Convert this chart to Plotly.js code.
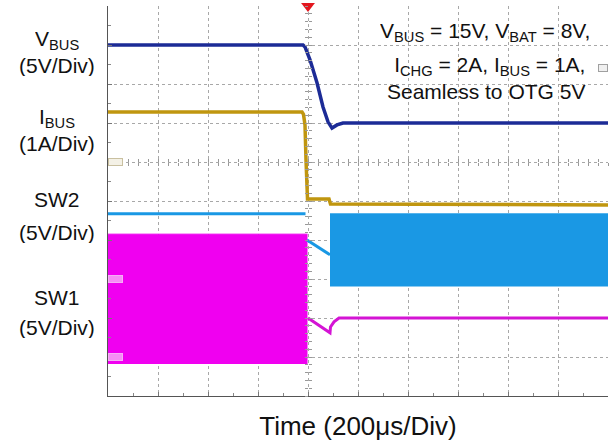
<!DOCTYPE html>
<html>
<head>
<meta charset="utf-8">
<script src="https://cdn.plot.ly/plotly-3.0.1.min.js"></script>
<style>html,body{margin:0;padding:0;background:#fff;}#chart{width:609px;height:445px;}</style>
</head>
<body>
<div id="chart"></div>
<script>
// All values in screen divisions (time: 200us/div, 10 div; vertical: 10 div)
const vbusTime = [0, 3.90, 3.94, 4.04, 4.18, 4.30, 4.40, 4.48, 4.58, 4.70, 10];
const vbusDiv  = [9.0, 9.0, 8.95, 8.62, 8.03, 7.41, 7.03, 6.87, 6.95, 7.0, 7.0];

const ibusTime = [0, 3.88, 3.91, 3.94, 3.96, 3.99, 4.42, 4.45, 10];
const ibusDiv  = [7.28, 7.28, 7.22, 6.95, 6.05, 5.05, 5.05, 4.92, 4.90];

const sw2Time = [0, 3.95, 3.97, 3.98, 4.44];
const sw2Div  = [4.67, 4.67, null, 4.0, 3.62];
const sw2BandTime = [4.44, 10];
const sw2BandHigh = [4.67, 4.67];
const sw2BandLow  = [2.81, 2.81];

const sw1BandTime = [0, 3.99];
const sw1BandHigh = [4.15, 4.15];
const sw1BandLow  = [0.82, 0.82];
const sw1Time = [4.0, 4.44, 4.45, 4.52, 4.62, 10];
const sw1Div  = [2.0, 1.62, 1.77, 1.90, 2.0, 2.0];

const triggerTime = [4.0];
const triggerLevel = [10];

const C = {vbus:'#1c2b96', ibus:'#c0960f', sw2:'#1a98e4', sw1:'#f000f0', sw1line:'#d414d4'};
const FONT = 'Liberation Sans, Arial, Helvetica, sans-serif';

const traces = [
  {x: sw1BandTime, y: sw1BandLow, mode:'lines', line:{color:C.sw1, width:0}, hoverinfo:'skip', showlegend:false},
  {x: sw1BandTime, y: sw1BandHigh, mode:'lines', fill:'tonexty', fillcolor:C.sw1, line:{color:C.sw1, width:1}, hoverinfo:'skip', showlegend:false},
  {x: sw2BandTime, y: sw2BandLow, mode:'lines', line:{color:C.sw2, width:0}, hoverinfo:'skip', showlegend:false},
  {x: sw2BandTime, y: sw2BandHigh, mode:'lines', fill:'tonexty', fillcolor:C.sw2, line:{color:C.sw2, width:1}, hoverinfo:'skip', showlegend:false},
  {x: sw1Time, y: sw1Div, mode:'lines', line:{color:C.sw1line, width:3}, showlegend:false},
  {x: sw2Time, y: sw2Div, mode:'lines', line:{color:C.sw2, width:3}, connectgaps:false, showlegend:false},
  {x: ibusTime, y: ibusDiv, mode:'lines', line:{color:C.ibus, width:3.5}, showlegend:false},
  {x: vbusTime, y: vbusDiv, mode:'lines', line:{color:C.vbus, width:3.5}, showlegend:false},
  {x: triggerTime, y: triggerLevel, mode:'markers', marker:{symbol:'triangle-down', size:12, color:'#e3161e'}, cliponaxis:false, showlegend:false},
  {x: [], y: [], xaxis:'x2', yaxis:'y', showlegend:false},
  {x: [], y: [], xaxis:'x3', yaxis:'y', showlegend:false},
  {x: [], y: [], xaxis:'x', yaxis:'y2', showlegend:false},
  {x: [], y: [], xaxis:'x', yaxis:'y3', showlegend:false}
];

const baseAxis = {
  range:[0,10], dtick:1, tick0:0, showgrid:true, gridcolor:'#a8a8a8', griddash:'dot', gridwidth:1,
  ticks:'inside', ticklen:4, tickcolor:'#777', showticklabels:false, showline:true, linecolor:'#555',
  linewidth:1, zeroline:false, fixedrange:true,
  minor:{dtick:0.5, ticks:'inside', ticklen:3, tickcolor:'#888', showgrid:false}
};
const centerAxis = (extra) => Object.assign({
  range:[0,10], dtick:0.2, tick0:0, showgrid:false, showline:false, zeroline:false,
  showticklabels:false, ticklen:3, tickcolor:'#999', fixedrange:true, anchor:'free'
}, extra);

const leftLabels = [
  {t:'V<sub>BUS</sub>', y:0.913, h:22}, {t:'(5V/Div)', y:0.849, h:22},
  {t:'I<sub>BUS</sub><br>(1A/Div)', y:0.681, h:null},
  {t:'SW2', y:0.505, h:22}, {t:'(5V/Div)', y:0.421, h:22},
  {t:'SW1', y:0.254, h:22}, {t:'(5V/Div)', y:0.177, h:22}
];
const annotations = leftLabels.map(l => {
  const a = {
    text:l.t, xref:'paper', yref:'paper', x:-0.102, y:l.y, xanchor:'center', yanchor:'middle',
    align:'center', showarrow:false, font:{family:FONT, size:21, color:'#111'}
  };
  if (l.h) a.height = l.h;
  return a;
});
[
  {t:'V<sub>BUS</sub> = 15V, V<sub>BAT</sub> = 8V,', x:0.968, y:0.933, h:22},
  {t:'I<sub>CHG</sub> = 2A, I<sub>BUS</sub> = 1A,<br>Seamless to OTG 5V', x:0.958, y:0.816, h:null}
].forEach(l => {
  const a = {
    text:l.t, xref:'paper', yref:'paper', x:l.x, y:l.y, xanchor:'right', yanchor:'middle',
    align:'right', showarrow:false, font:{family:FONT, size:21, color:'#111'}
  };
  if (l.h) a.height = l.h;
  annotations.push(a);
});
// channel reference markers
[
  {x:0, y:6, c:'#c9c0a0', bg:'#f4f1e6'},
  {x:0, y:3, c:'#f6aef6', bg:'#f58ef5'},
  {x:0, y:1, c:'#f6aef6', bg:'#f58ef5'}
].forEach(m => annotations.push({
  text:'&nbsp;', x:m.x, y:m.y, xref:'x', yref:'y', xanchor:'left', yanchor:'middle',
  width:13, height:6, showarrow:false, font:{size:5, color:m.c},
  bordercolor:m.c, borderwidth:1, borderpad:0, bgcolor:m.bg
}));
annotations.push({
  text:'&nbsp;', xref:'paper', yref:'y', x:1, y:8.4, xanchor:'right', yanchor:'middle',
  width:8, height:6, showarrow:false, font:{size:5, color:'#999'}, bordercolor:'#a0a0a0',
  borderwidth:1, borderpad:0, bgcolor:'#f0f0f0'
});

const layout = {
  width:609, height:445,
  margin:{l:108, r:1, t:6, b:49},
  paper_bgcolor:'#fff', plot_bgcolor:'#fff',
  showlegend:false,
  font:{family:FONT},
  xaxis: Object.assign({}, baseAxis, {
    title:{text:'Time (200\u03bcs/Div)', font:{family:FONT, size:26, color:'#111'}, standoff:20}
  }),
  yaxis: Object.assign({}, baseAxis),
  xaxis2: centerAxis({overlaying:'x', position:0.6, ticks:'inside'}),
  xaxis3: centerAxis({overlaying:'x', position:0.6, ticks:'outside'}),
  yaxis2: centerAxis({overlaying:'y', position:0.4, ticks:'inside'}),
  yaxis3: centerAxis({overlaying:'y', position:0.4, ticks:'outside'}),
  annotations: annotations
};

Plotly.newPlot('chart', traces, layout, {staticPlot:true, displayModeBar:false});
</script>
</body>
</html>
